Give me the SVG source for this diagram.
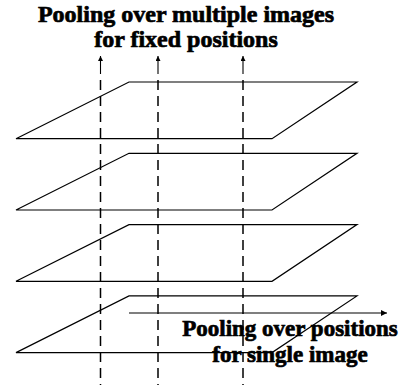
<svg xmlns="http://www.w3.org/2000/svg" width="408" height="385" viewBox="0 0 408 385">
<style>
.plane{fill:none;stroke:#000;stroke-width:1.2}
.dash{fill:none;stroke:#000;stroke-width:1.5;stroke-dasharray:10 6}
.line{fill:none;stroke:#000;stroke-width:1.1}
.lbl{font-family:'Liberation Serif','DejaVu Serif',serif;font-weight:700;fill:#000;text-anchor:middle;stroke:#000;stroke-width:0.7}
</style>
<defs>
<marker id="ah" viewBox="0 0 10 10" refX="10" refY="5" markerWidth="9" markerHeight="6" markerUnits="userSpaceOnUse" orient="auto">
<path d="M0,0 L10,5 L0,10 Z" fill="#000"/>
</marker>
<marker id="av" viewBox="0 0 10 10" refX="10" refY="5" markerWidth="8" markerHeight="5" markerUnits="userSpaceOnUse" orient="auto">
<path d="M0,0 L10,5 L0,10 Z" fill="#000"/>
</marker>
</defs>
<rect width="408" height="385" fill="#fff"/>
<g id="plane1"><path class="plane" d="M16,138.7 L129,82 L357,82 L272,138.7 Z"/></g>
<g id="plane2"><path class="plane" d="M16,210 L129,153.3 L357,153.3 L272,210 Z"/></g>
<g id="plane3"><path class="plane" d="M16,281.3 L129,224.6 L357,224.6 L272,281.3 Z"/></g>
<g id="plane4"><path class="plane" d="M16,352.6 L129,295.9 L357,295.9 L272,352.6 Z"/></g>
<g id="connectors">
<line class="line" x1="100.5" y1="74" x2="100.5" y2="56" marker-end="url(#av)"/>
<line class="line" x1="158" y1="74" x2="158" y2="56" marker-end="url(#av)"/>
<line class="line" x1="243" y1="74" x2="243" y2="56" marker-end="url(#av)"/>
<line class="dash" x1="100.5" y1="80" x2="100.5" y2="385"/>
<line class="dash" x1="158" y1="80" x2="158" y2="385"/>
<line class="dash" x1="243" y1="80" x2="243" y2="385"/>
<line class="line" x1="129" y1="313" x2="387" y2="313" marker-end="url(#ah)"/>
</g>
<g id="label-top">
<text class="lbl" x="186" y="22" font-size="24">Pooling  over multiple images</text>
<text class="lbl" x="186" y="47" font-size="24">for fixed positions</text>
</g>
<g id="label-bottom">
<text class="lbl" x="290" y="336" font-size="23">Pooling over positions</text>
<text class="lbl" x="290" y="362" font-size="23">for single image</text>
</g>
</svg>
